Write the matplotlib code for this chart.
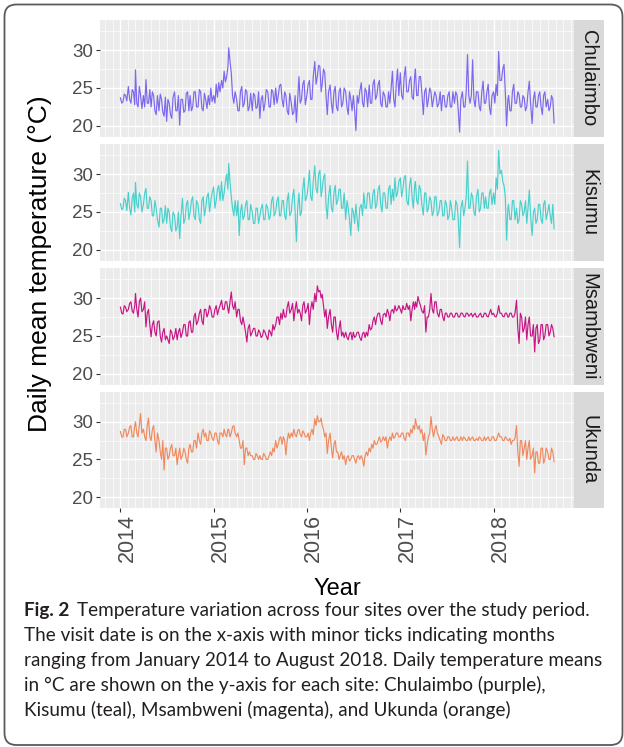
import numpy as np
import matplotlib
matplotlib.use('Agg')
import matplotlib.pyplot as plt
import matplotlib.dates as mdates
from matplotlib.patches import FancyBboxPatch, Rectangle
from matplotlib.transforms import IdentityTransform, ScaledTranslation

plt.rcParams['font.family'] = ['Liberation Sans', 'DejaVu Sans']

sites = ['Chulaimbo', 'Kisumu', 'Msambweni', 'Ukunda']
colours = ['#7B68EE', '#48D1CC', '#C71585', '#EF8A5F']

# readings on the 1st, 11th and 21st of each month, Jan 2014 - Aug 2018
chulaimbo = [
    # 2014
    23.7, 23.2, 24.0, 25.2, 23.0, 24.5, 27.4, 22.5, 24.0, 24.0, 26.1, 23.0,
    22.5, 24.0, 21.5, 22.0, 23.5, 21.3, 20.6, 23.0, 21.0, 24.5, 22.0, 20.1,
    23.5, 22.0, 24.5, 24.0, 22.5, 24.5, 22.5, 24.5, 22.0, 23.5, 24.0, 25.0,
    # 2015
    24.0, 25.5, 25.7, 26.0, 27.2, 26.5, 30.3, 27.0, 23.0, 23.5, 22.0, 25.2,
    23.0, 24.5, 22.5, 22.0, 24.0, 22.5, 21.0, 24.0, 23.0, 24.5, 22.5, 24.5,
    25.0, 24.0, 25.5, 22.5, 24.0, 21.5, 23.0, 21.8, 20.5, 26.5, 23.5, 26.0,
    # 2016
    24.0, 26.0, 23.5, 28.5, 26.5, 27.8, 25.5, 27.0, 21.5, 25.4, 21.7, 25.2,
    22.0, 25.0, 23.0, 24.5, 21.5, 23.5, 24.0, 19.4, 23.0, 25.7, 22.5, 24.5,
    25.4, 23.0, 26.1, 24.0, 26.0, 22.5, 24.0, 22.5, 23.0, 27.2, 22.5, 27.5,
    # 2017
    27.0, 23.5, 27.8, 24.5, 26.5, 23.5, 27.5, 24.0, 26.5, 21.5, 25.0, 23.5,
    24.5, 23.5, 24.0, 23.0, 22.0, 24.0, 22.5, 24.5, 22.5, 23.0, 24.0, 19.2,
    24.5, 22.5, 29.4, 23.0, 28.7, 22.5, 24.5, 22.0, 25.9, 23.0, 25.5, 21.5,
    # 2018
    24.5, 25.5, 29.8, 26.0, 28.1, 20.0, 24.0, 22.0, 25.5, 23.0, 24.1, 22.5,
    23.7, 22.5, 25.9, 20.3, 24.5, 22.5, 24.5, 21.5, 24.5, 23.5, 22.5, 23.5,
]
# readings on the 6th, 16th and 26th of each month
chulaimbo_mid = [
    23.0, 24.2, 23.3, 23.5, 24.8, 22.8, 23.0, 25.2, 22.3, 22.5, 23.0, 24.8,
    24.5, 22.0, 24.0, 24.2, 21.8, 23.8, 23.5, 21.5, 23.8, 22.0, 24.0, 23.5,
    21.8, 24.3, 22.0, 22.0, 24.5, 22.5, 24.8, 22.3, 24.3, 22.3, 22.8, 23.2,
    23.0, 23.8, 24.5, 25.0, 25.8, 27.8, 28.5, 24.0, 24.5, 22.0, 24.5, 22.5,
    24.8, 22.0, 24.3, 24.3, 22.3, 24.5, 23.5, 22.0, 24.8, 22.5, 24.8, 22.8,
    23.0, 25.3, 23.5, 24.5, 22.0, 24.3, 21.5, 24.0, 23.5, 23.0, 25.5, 22.8,
    25.5, 23.5, 26.5, 25.5, 28.0, 24.5, 27.5, 24.0, 24.5, 23.0, 24.5, 22.5,
    24.5, 22.5, 25.0, 22.5, 24.5, 22.0, 22.0, 24.0, 24.5, 23.0, 25.0, 22.5,
    23.0, 25.5, 23.5, 25.5, 23.0, 24.5, 22.5, 24.5, 25.0, 23.5, 25.5, 24.0,
    24.0, 26.5, 24.5, 26.0, 23.8, 26.5, 24.0, 26.5, 24.5, 24.5, 22.5, 25.0,
    22.5, 24.5, 22.5, 24.5, 24.0, 22.5, 24.0, 22.5, 24.5, 24.5, 22.0, 23.5,
    22.5, 24.5, 24.0, 24.0, 23.5, 24.5, 22.5, 24.5, 23.0, 24.5, 22.5, 24.0,
    23.0, 24.0, 26.0, 27.5, 24.5, 23.5, 22.0, 24.5, 23.0, 24.5, 22.5, 24.0,
    22.0, 24.5, 23.0, 23.5, 22.5, 24.0, 22.5, 24.0, 22.5, 22.0, 24.0, 20.4,
]
kisumu = [
    # 2014
    26.1, 25.5, 26.5, 27.6, 24.6, 27.5, 28.9, 25.5, 27.0, 26.0, 28.1, 25.5,
    26.5, 24.5, 25.5, 23.0, 25.5, 24.0, 23.5, 25.0, 22.4, 24.5, 23.0, 21.5,
    26.8, 24.0, 26.5, 25.0, 27.0, 24.0, 26.0, 23.5, 27.0, 25.5, 27.5, 26.5,
    # 2015
    28.3, 26.5, 28.5, 29.0, 27.5, 30.0, 31.4, 27.0, 24.5, 24.5, 21.9, 26.0,
    24.5, 26.5, 24.0, 25.0, 23.5, 25.5, 24.5, 26.0, 24.0, 25.5, 24.5, 27.0,
    25.0, 27.0, 24.5, 26.5, 24.0, 27.5, 25.0, 28.0, 21.1, 27.5, 25.0, 29.5,
    # 2016
    27.0, 30.5, 26.5, 31.1, 27.5, 30.5, 28.0, 30.0, 24.1, 28.5, 25.0, 28.5,
    26.5, 28.0, 25.5, 24.0, 25.5, 21.9, 25.0, 26.0, 22.5, 26.0, 27.5, 25.5,
    27.5, 25.5, 28.0, 26.0, 28.5, 25.0, 27.5, 25.5, 28.5, 28.0, 29.5, 27.5,
    # 2017
    29.5, 28.0, 29.8, 25.9, 29.5, 25.5, 29.0, 26.0, 28.0, 24.6, 27.5, 25.5,
    26.5, 25.0, 27.0, 25.0, 26.5, 24.5, 26.0, 24.5, 25.5, 24.0, 26.0, 20.3,
    26.5, 25.5, 31.7, 25.5, 27.0, 24.5, 28.0, 25.5, 27.5, 27.0, 25.5, 28.0,
    # 2018
    27.5, 29.5, 33.1, 30.5, 28.5, 21.3, 26.0, 24.0, 26.5, 25.5, 24.0, 26.0,
    25.0, 23.5, 27.9, 21.9, 25.5, 24.0, 26.0, 23.5, 26.5, 25.0, 24.5, 26.0,
]
kisumu_mid = [
    25.3, 26.8, 25.2, 25.5, 26.8, 25.0, 26.0, 27.5, 25.0, 27.5, 25.5, 27.0,
    24.5, 26.5, 24.0, 25.5, 23.5, 25.8, 25.5, 23.0, 25.0, 22.5, 25.0, 24.5,
    23.5, 26.0, 24.0, 26.5, 24.5, 26.5, 24.0, 26.5, 24.5, 27.0, 25.0, 27.5,
    25.5, 28.0, 26.5, 26.5, 29.0, 28.0, 29.0, 25.5, 26.5, 26.5, 25.0, 24.0,
    26.0, 24.0, 26.0, 23.5, 25.5, 23.5, 25.5, 24.0, 26.0, 24.0, 26.5, 24.5,
    26.5, 24.5, 26.5, 24.5, 26.5, 24.5, 27.0, 25.0, 25.5, 24.5, 28.0, 26.5,
    28.5, 27.0, 29.0, 28.0, 30.0, 27.0, 29.5, 26.0, 27.0, 25.5, 27.5, 26.0,
    28.0, 25.5, 27.5, 26.5, 24.0, 25.5, 23.5, 24.0, 25.5, 24.5, 25.5, 27.5,
    25.5, 27.5, 25.5, 28.0, 26.0, 27.5, 25.5, 28.0, 26.0, 26.5, 27.0, 29.0,
    27.0, 29.5, 26.5, 28.5, 27.0, 28.5, 26.5, 28.5, 26.0, 27.5, 25.0, 27.0,
    24.5, 27.0, 24.5, 26.5, 24.5, 26.5, 24.0, 26.5, 24.0, 26.5, 24.0, 25.5,
    24.5, 27.0, 25.5, 27.5, 25.0, 27.0, 25.0, 27.5, 25.5, 25.5, 27.5, 26.0,
    26.0, 28.0, 30.0, 29.0, 27.0, 25.5, 24.0, 26.5, 24.0, 23.5, 26.5, 24.5,
    26.5, 25.5, 24.5, 25.0, 23.5, 26.0, 24.0, 26.0, 24.0, 26.0, 23.5, 22.8,
]
msambweni = [
    # 2014
    28.8, 27.9, 28.8, 28.5, 29.5, 28.0, 30.6, 27.5, 30.0, 28.5, 26.2, 28.5,
    24.9, 27.0, 25.0, 27.0, 24.2, 26.0, 25.0, 24.0, 25.5, 25.0, 24.5, 26.0,
    25.5, 26.5, 25.0, 27.0, 25.5, 28.0, 27.0, 28.5, 26.5, 28.5, 28.0, 28.5,
    # 2015
    27.5, 29.0, 28.5, 29.7, 28.5, 29.5, 28.0, 30.8, 28.5, 27.5, 28.5, 26.5,
    26.5, 24.2, 26.5, 25.5, 26.0, 25.0, 25.5, 25.0, 25.5, 24.5, 25.5, 26.5,
    26.5, 27.5, 28.0, 28.5, 27.5, 29.5, 28.5, 27.0, 29.5, 28.5, 27.0, 29.5,
    # 2016
    28.5, 26.5, 29.5, 30.6, 31.6, 31.0, 30.5, 27.5, 26.0, 28.5, 25.5, 27.5,
    24.5, 27.0, 25.5, 25.5, 24.5, 25.5, 25.5, 25.0, 25.5, 24.4, 25.5, 25.5,
    26.5, 26.0, 27.5, 27.5, 28.0, 26.5, 28.0, 28.5, 27.0, 28.5, 29.0, 28.5,
    # 2017
    28.5, 29.0, 28.5, 28.5, 27.0, 29.5, 29.5, 30.2, 29.0, 28.0, 25.5, 27.5,
    30.6, 28.0, 29.5, 27.5, 28.5, 27.0, 28.0, 27.5, 28.0, 27.5, 28.0, 27.5,
    28.0, 27.5, 28.0, 27.8, 27.5, 28.0, 27.5, 28.0, 27.5, 28.0, 27.5, 28.5,
    # 2018
    28.0, 27.5, 29.0, 28.0, 27.5, 28.0, 27.5, 28.0, 27.5, 29.7, 24.0, 27.5,
    26.0, 24.5, 27.5, 25.0, 22.9, 26.5, 24.5, 26.5, 25.0, 26.5, 25.5, 26.0,
]
msambweni_mid = [
    28.0, 29.0, 28.2, 29.3, 28.3, 29.0, 28.5, 29.5, 28.2, 29.5, 28.0, 26.5,
    26.5, 25.5, 26.8, 25.0, 25.5, 24.5, 24.5, 25.8, 24.5, 26.0, 25.5, 24.8,
    26.5, 25.0, 26.8, 25.5, 27.5, 26.5, 28.0, 27.0, 28.5, 27.5, 29.0, 27.5,
    28.5, 27.8, 29.0, 28.5, 29.5, 28.5, 29.5, 29.0, 29.5, 28.5, 27.0, 27.5,
    25.5, 26.0, 25.0, 26.0, 25.0, 25.8, 24.8, 25.8, 25.0, 25.8, 25.0, 25.8,
    27.5, 26.5, 27.2, 27.5, 28.8, 28.0, 29.3, 28.5, 28.0, 28.0, 29.0, 28.0,
    29.3, 28.5, 28.5, 29.5, 30.8, 30.0, 29.0, 28.5, 27.5, 26.5, 27.5, 25.5,
    26.0, 25.0, 24.8, 24.8, 25.3, 24.5, 24.8, 25.5, 24.8, 25.3, 24.8, 25.0,
    25.8, 27.0, 26.5, 28.0, 27.0, 27.8, 27.5, 28.0, 28.3, 28.0, 28.3, 29.0,
    28.0, 28.5, 29.3, 29.0, 28.5, 28.5, 28.8, 29.5, 28.3, 29.0, 27.5, 28.5,
    28.5, 29.5, 28.0, 28.5, 27.5, 28.0, 27.5, 28.0, 27.5, 28.0, 27.5, 28.0,
    27.6, 28.0, 27.6, 28.0, 27.8, 27.5, 27.8, 27.5, 28.0, 27.6, 28.0, 27.8,
    27.6, 28.0, 28.0, 27.6, 28.0, 27.5, 28.0, 27.5, 28.0, 26.0, 28.0, 25.5,
    27.5, 26.5, 25.0, 26.5, 26.0, 24.0, 26.5, 24.5, 26.5, 25.0, 26.5, 24.9,
]
ukunda = [
    # 2014
    28.7, 28.0, 29.0, 28.5, 29.5, 28.0, 30.0, 28.0, 31.1, 29.0, 27.5, 30.5,
    27.5, 29.5, 26.0, 27.5, 25.0, 23.6, 26.5, 25.5, 27.0, 25.5, 24.3, 26.5,
    25.5, 26.0, 24.5, 27.0, 26.0, 27.5, 28.5, 27.0, 29.0, 28.5, 27.5, 28.5,
    # 2015
    27.5, 28.5, 27.0, 28.5, 29.0, 28.0, 29.0, 28.5, 29.5, 28.0, 27.5, 26.5,
    24.3, 26.5, 26.0, 25.5, 25.0, 25.5, 25.5, 25.0, 25.5, 25.0, 26.0, 26.5,
    27.5, 27.0, 28.0, 28.0, 25.6, 28.5, 28.5, 29.0, 28.0, 29.0, 28.0, 28.5,
    # 2016
    28.0, 27.5, 29.0, 30.4, 30.8, 30.0, 29.5, 28.0, 25.8, 28.5, 25.2, 27.5,
    26.0, 25.5, 25.0, 24.3, 25.5, 25.0, 25.5, 24.5, 25.5, 25.5, 24.1, 26.0,
    26.5, 27.0, 27.5, 27.0, 28.0, 27.5, 27.5, 26.5, 28.0, 28.5, 28.0, 28.5,
    # 2017
    28.0, 28.5, 27.5, 28.5, 29.0, 29.5, 30.4, 29.0, 28.5, 27.5, 25.6, 28.0,
    30.7, 28.0, 29.5, 28.0, 27.0, 28.0, 27.5, 28.0, 27.5, 27.5, 28.0, 27.5,
    27.5, 27.8, 27.5, 27.5, 28.0, 27.5, 27.5, 27.8, 27.5, 27.5, 28.0, 27.5,
    # 2018
    28.0, 27.5, 28.5, 28.0, 27.5, 27.8, 27.5, 27.0, 27.5, 29.5, 24.1, 27.5,
    26.5, 25.0, 27.5, 25.5, 23.2, 26.0, 24.5, 26.5, 25.0, 26.0, 25.0, 26.0,
]
ukunda_mid = [
    28.0, 29.0, 28.0, 29.3, 28.0, 29.5, 28.5, 29.5, 28.5, 28.0, 29.5, 28.0,
    29.0, 27.5, 28.5, 26.0, 27.5, 26.5, 25.0, 26.5, 25.5, 26.5, 25.5, 25.0,
    26.5, 25.0, 26.5, 26.0, 27.5, 26.5, 27.5, 28.5, 28.0, 27.5, 28.8, 27.8,
    28.5, 27.5, 28.5, 28.0, 28.3, 29.0, 28.0, 29.3, 28.5, 28.5, 26.5, 27.5,
    26.5, 25.5, 25.5, 25.0, 25.8, 25.0, 25.0, 25.8, 25.0, 25.5, 25.5, 26.0,
    26.5, 27.8, 27.0, 27.5, 27.5, 27.8, 28.0, 28.3, 28.8, 28.3, 28.8, 28.0,
    28.5, 28.5, 28.3, 29.5, 30.0, 30.5, 29.0, 28.5, 27.5, 26.5, 27.0, 26.0,
    25.0, 26.0, 25.5, 25.3, 24.8, 25.5, 25.0, 25.3, 25.0, 25.0, 25.5, 25.5,
    26.0, 26.5, 27.0, 27.5, 27.3, 28.0, 28.0, 27.5, 27.5, 27.8, 28.5, 28.0,
    28.5, 27.8, 28.5, 28.0, 28.5, 29.0, 29.5, 29.5, 29.0, 28.5, 27.0, 28.5,
    29.0, 29.0, 28.5, 27.5, 28.3, 27.5, 28.0, 27.5, 28.0, 27.8, 27.5, 28.0,
    28.0, 27.5, 28.0, 27.8, 27.5, 27.8, 28.0, 27.5, 28.0, 27.8, 27.5, 28.0,
    27.5, 28.0, 28.0, 27.5, 28.0, 27.5, 27.8, 27.5, 27.8, 26.0, 27.5, 25.5,
    27.5, 26.5, 25.0, 26.5, 26.0, 24.5, 26.5, 24.5, 26.5, 25.0, 26.5, 24.7,
]
series = [(chulaimbo, chulaimbo_mid), (kisumu, kisumu_mid),
          (msambweni, msambweni_mid), (ukunda, ukunda_mid)]

months = np.arange('2014-01', '2018-09', dtype='datetime64[M]')
dates = (months.astype('datetime64[D]')[:, None] + np.array([0, 5, 10, 15, 20, 25])).ravel()


def merge(first, mid):
    a = np.reshape(first, (-1, 3))
    b = np.reshape(mid, (-1, 3))
    return np.stack([a, b], axis=2).reshape(-1)


caption_bold = 'Fig. 2'
caption_lines = [
    'Temperature variation across four sites over the study period.',
    'The visit date is on the x-axis with minor ticks indicating months',
    'ranging from January 2014 to August 2018. Daily temperature means',
    'in \u00b0C are shown on the y-axis for each site: Chulaimbo (purple),',
    'Kisumu (teal), Msambweni (magenta), and Ukunda (orange)',
]

W, H = 624, 747
fig = plt.figure(figsize=(W / 100, H / 100), dpi=100)


def fx(px):
    return px / W


def fy(py):
    return 1 - py / H


# outer rounded frame
frame = FancyBboxPatch((4.5, 2), 618, 740.5, boxstyle='round,pad=0,rounding_size=12',
                       transform=IdentityTransform(), fill=False, ec='#5a5a5a', lw=1.3)
fig.add_artist(frame)

panel_rows = [(20, 137), (144, 261), (268, 385), (392, 508)]
left, right = 100, 574
xmin, xmax = np.datetime64('2013-10-13'), np.datetime64('2018-11-12')

for i, (top, bot) in enumerate(panel_rows):
    ax = fig.add_axes([fx(left), fy(bot), fx(right - left), (bot - top) / H])
    ax.set_facecolor('#EBEBEB')
    ax.plot(dates, merge(*series[i]), color=colours[i], lw=0.85, zorder=3)
    ax.set_xlim(xmin, xmax)
    ax.set_ylim(18.55, 33.95)
    ax.set_yticks([20, 25, 30])
    ax.set_yticks([22.5, 27.5, 32.5], minor=True)
    ax.xaxis.set_major_locator(mdates.YearLocator())
    ax.xaxis.set_minor_locator(mdates.MonthLocator())
    ax.xaxis.set_major_formatter(mdates.DateFormatter('%Y'))
    ax.grid(which='major', color='white', lw=1.0, zorder=1)
    ax.grid(which='minor', color='white', lw=0.5, zorder=1)
    ax.set_axisbelow(True)
    for s in ax.spines.values():
        s.set_visible(False)
    ax.tick_params(axis='y', which='major', length=3, width=0.8, color='#333333',
                   labelsize=13.5, labelcolor='#4D4D4D', pad=2)
    ax.tick_params(axis='y', which='minor', length=0)
    ax.tick_params(axis='x', which='minor', length=0)
    if i < 3:
        ax.tick_params(axis='x', which='major', length=0, labelbottom=False)
    else:
        ax.tick_params(axis='x', which='major', length=3, width=0.8, color='#333333',
                       labelsize=15.5, labelcolor='#4D4D4D', labelrotation=90, pad=1.5)
        shift = ScaledTranslation(7 / 100, 0, fig.dpi_scale_trans)
        for lab in ax.get_xticklabels():
            lab.set_transform(lab.get_transform() + shift)
    # facet strip
    fig.add_artist(Rectangle((fx(right), fy(bot)), fx(604 - right), (bot - top) / H,
                             transform=fig.transFigure, fc='#D9D9D9', ec='none'))
    fig.text(fx((right + 604) / 2), fy((top + bot) / 2), sites[i], rotation=270,
             ha='center', va='center', fontsize=14.5, color='#1A1A1A')

fig.text(fx(40), fy(264), 'Daily mean temperature (\u00b0C)', rotation=90,
         ha='center', va='center', fontsize=19, color='black')
fig.text(fx(337), fy(589), 'Year', ha='center', va='center', fontsize=17, color='black')

# caption
cap_font = ['Lato', 'DejaVu Sans']
cap_size = 13.6
cap_x = 24
baselines = [616, 641, 666, 691, 716]
t_bold = fig.text(fx(cap_x), fy(baselines[0]), caption_bold, family=cap_font, weight='bold',
                  fontsize=cap_size, va='baseline', color='#231F20')
fig.canvas.draw()
bb = t_bold.get_window_extent()
fig.text(fx(bb.x1 + 8), fy(baselines[0]), caption_lines[0], family=cap_font,
         fontsize=cap_size, va='baseline', color='#231F20')
for line, yb in zip(caption_lines[1:], baselines[1:]):
    fig.text(fx(cap_x), fy(yb), line, family=cap_font, fontsize=cap_size,
             va='baseline', color='#231F20')

fig.savefig('out.png', dpi=100)
